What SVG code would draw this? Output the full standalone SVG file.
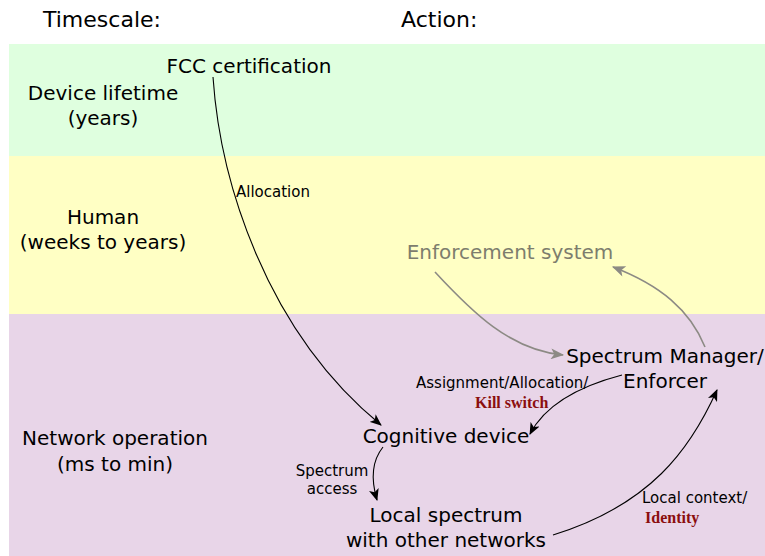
<svg xmlns="http://www.w3.org/2000/svg" width="765" height="556" viewBox="0 0 765 556">
  <style>
    text { font-family: "DejaVu Sans", "Liberation Sans", sans-serif; fill: #000; }
    .head { font-size: 22px; }
    .node { font-size: 20px; }
    .lbl { font-size: 15px; }
    .grey { fill: #7d7d6d; }
    .red { font-family: "Liberation Serif", "DejaVu Serif", serif; font-weight: bold; font-size: 16px; fill: #8b0e0e; }
    .c { text-anchor: middle; }
    .edge { fill: none; stroke: #000; stroke-width: 1.1; marker-end: url(#arr); }
    .edge.g { stroke: #8c8a84; stroke-width: 1.6; marker-end: url(#arrg); }
  </style>
  <defs>
    <marker id="arr" viewBox="0 0 12 10" refX="11" refY="5" markerWidth="12" markerHeight="10" markerUnits="userSpaceOnUse" orient="auto">
      <path d="M0,0 L12,5 L0,10 L3,5 Z" fill="#000"/>
    </marker>
    <marker id="arrg" viewBox="0 0 12 10" refX="11" refY="5" markerWidth="14" markerHeight="11" markerUnits="userSpaceOnUse" orient="auto">
      <path d="M0,0 L12,5 L0,10 L3,5 Z" fill="#8c8a84"/>
    </marker>
  </defs>

  <!-- timescale bands -->
  <g id="bands">
    <rect x="9" y="44" width="756" height="112" fill="#dfffdf"/>
    <rect x="9" y="156" width="756" height="158" fill="#ffffc4"/>
    <rect x="9" y="314" width="756" height="242" fill="#e8d5e8"/>
  </g>

  <!-- column headings -->
  <g id="headings">
    <text class="head" x="43" y="27">Timescale:</text>
    <text class="head" x="401" y="27">Action:</text>
  </g>

  <!-- timescale labels -->
  <g id="scale-device">
    <text class="node c" x="103" y="100">Device lifetime</text>
    <text class="node c" x="103" y="125">(years)</text>
  </g>
  <g id="scale-human">
    <text class="node c" x="103" y="224">Human</text>
    <text class="node c" x="103" y="249">(weeks to years)</text>
  </g>
  <g id="scale-network">
    <text class="node c" x="115" y="445">Network operation</text>
    <text class="node c" x="115" y="471">(ms to min)</text>
  </g>

  <!-- action nodes -->
  <g id="fcc">
    <text class="node c" x="249" y="73">FCC certification</text>
  </g>
  <g id="enforcement">
    <text class="node c grey" x="510" y="259">Enforcement system</text>
  </g>
  <g id="manager">
    <text class="node c" x="665" y="363">Spectrum Manager/</text>
    <text class="node c" x="665" y="388">Enforcer</text>
  </g>
  <g id="cognitive">
    <text class="node c" x="446" y="443">Cognitive device</text>
  </g>
  <g id="local">
    <text class="node c" x="446" y="522">Local spectrum</text>
    <text class="node c" x="446" y="547">with other networks</text>
  </g>

  <!-- connectors -->
  <g id="connectors">
    <path class="edge" d="M213,77 C220,180 265,330 381,425"/>
    <path class="edge g" d="M435,272 C472,312 510,350 563,355"/>
    <path class="edge g" d="M705,347 C690,310 660,285 613,267"/>
    <path class="edge" d="M622,375 C580,386 545,405 530,434"/>
    <path class="edge" d="M383,447 C371,462 371,480 377,500"/>
    <path class="edge" d="M553,535 C650,505 690,450 717,390"/>
  </g>

  <!-- connector labels -->
  <g id="labels">
    <text class="lbl" x="236" y="197">Allocation</text>
    <text class="lbl" x="416" y="388">Assignment/Allocation/</text>
    <text class="red" x="475" y="408">Kill switch</text>
    <text class="lbl c" x="332" y="476">Spectrum</text>
    <text class="lbl c" x="332" y="494">access</text>
    <text class="lbl" x="642" y="503">Local context/</text>
    <text class="red" x="645" y="523">Identity</text>
  </g>
</svg>
